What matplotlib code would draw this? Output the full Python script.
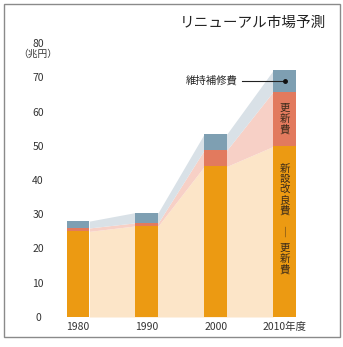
import matplotlib
matplotlib.use("Agg")
import matplotlib.pyplot as plt
from matplotlib.patches import Rectangle

plt.rcParams["font.family"] = ["Noto Sans CJK JP", "DejaVu Sans"]

# ===================================
# Data (兆円)
# ===================================

years = ["1980", "1990", "2000", "2010年度"]
new_improve = [25.0, 26.6, 44.0, 49.8]   # 新設改良費 - 更新費
renewal = [1.0, 0.9, 4.8, 16.0]          # 更新費
maintenance = [2.0, 3.0, 4.7, 6.2]       # 維持補修費
y_ticks = [0, 10, 20, 30, 40, 50, 60, 70, 80]

# colours
c_orange = "#EC9A12"
c_red = "#E27A5E"
c_blue = "#7E9FB2"
c_orange_l = "#FCE5C8"
c_red_l = "#F7D0C6"
c_blue_l = "#D9E1E7"

# ===================================
# Figure
# ===================================

W, H = 343, 347
fig = plt.figure(figsize=(W / 100, H / 100), dpi=100)
fig.patch.set_facecolor("white")

# axes placed in pixel terms
left_px, right_px = 50, 320
bottom_px, top_px = 317, 43
ax = fig.add_axes([left_px / W, 1 - bottom_px / H,
                   (right_px - left_px) / W, (bottom_px - top_px) / H])

x = list(range(len(years)))
w = 0.33
px_per_unit = (284.5 - 78) / 3
ax.set_xlim((left_px - 78) / px_per_unit, (right_px - 78) / px_per_unit)
ax.set_ylim(0, 80)

lvl1 = new_improve
lvl2 = [a + b for a, b in zip(new_improve, renewal)]
lvl3 = [a + b for a, b in zip(lvl2, maintenance)]

# light bands between bars, joining bar edges
xs, y1s, y2s, y3s = [], [], [], []
for i in x:
    xs += [i - w / 2, i + w / 2]
    y1s += [lvl1[i], lvl1[i]]
    y2s += [lvl2[i], lvl2[i]]
    y3s += [lvl3[i], lvl3[i]]
xs, y1s, y2s, y3s = xs[1:-1], y1s[1:-1], y2s[1:-1], y3s[1:-1]

ax.fill_between(xs, 0, y1s, color=c_orange_l, lw=0, zorder=1)
ax.fill_between(xs, y1s, y2s, color=c_red_l, lw=0, zorder=1)
ax.fill_between(xs, y2s, y3s, color=c_blue_l, lw=0, zorder=1)

# stacked bars
ax.bar(x, new_improve, width=w, color=c_orange, zorder=2)
ax.bar(x, renewal, width=w, bottom=lvl1, color=c_red, zorder=2)
ax.bar(x, maintenance, width=w, bottom=lvl2, color=c_blue, zorder=2)

for s in ax.spines.values():
    s.set_visible(False)
ax.set_facecolor("none")

ax.set_yticks(y_ticks)
ax.set_yticklabels([str(t) for t in y_ticks])
ax.set_xticks(x)
ax.set_xticklabels(years)
ax.tick_params(axis="both", length=0, labelsize=7.5, colors="#333333")
ax.tick_params(axis="y", pad=8.6)
ax.tick_params(axis="x", pad=3.5)
for lab in ax.get_yticklabels():
    lab.set_horizontalalignment("center")

# unit label
fig.text(38 / W, 1 - 54 / H, "（兆円）", ha="center", va="center",
         fontsize=7, color="#333333")

# title
fig.text(326 / W, 1 - 23 / H, "リニューアル市場予測", ha="right", va="center",
         fontsize=10.5, color="#222222")

# vertical labels inside 2010 bar
last = x[-1]
ax.text(last, (lvl1[-1] + lvl2[-1]) / 2, "更\n新\n費", ha="center", va="center",
        fontsize=7.5, linespacing=1.05, color="#3a2a1a", zorder=3)
ax.text(last, 37.2, "新\n設\n改\n良\n費", ha="center", va="center",
        fontsize=7.5, linespacing=1.05, color="#3a2a1a", zorder=3)
ax.text(last, 24.6, "｜", ha="center", va="center",
        fontsize=7.5, color="#3a2a1a", zorder=3)
ax.text(last, 17.0, "更\n新\n費", ha="center", va="center",
        fontsize=7.5, linespacing=1.05, color="#3a2a1a", zorder=3)

# 維持補修費 pointer
ann_y = 69.0
ax.plot([2.38, last], [ann_y, ann_y], color="#222222", lw=0.8, zorder=3)
ax.plot([last], [ann_y], "o", color="#111111", ms=2.5, zorder=4)
ax.text(2.32, ann_y, "維持補修費", ha="right", va="center",
        fontsize=7.5, color="#222222", zorder=3)

# frame around picture
fig.add_artist(Rectangle((4 / W, 1 - 337 / H), 336 / W, 333 / H,
                         transform=fig.transFigure, fill=False,
                         edgecolor="#8a8a8a", lw=1.0))

fig.savefig("out.png", dpi=100)
